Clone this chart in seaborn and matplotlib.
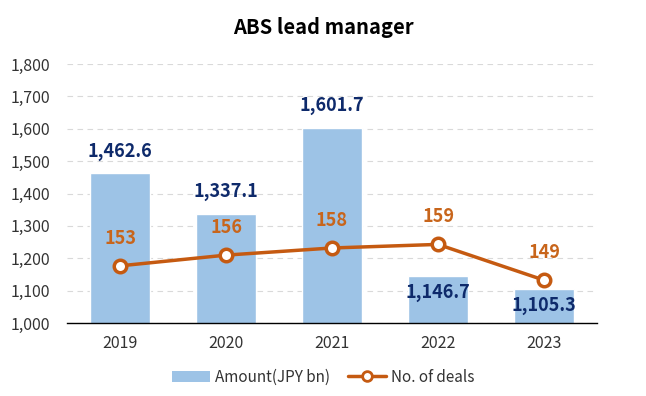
import numpy as np
import matplotlib
matplotlib.use('Agg')
import matplotlib.pyplot as plt
import seaborn as sns
import pandas as pd
from matplotlib.lines import Line2D
from matplotlib.patches import Patch

# Chart data
years = ['2019', '2020', '2021', '2022', '2023']
amount = [1462.6, 1337.1, 1601.7, 1146.7, 1105.3]
deals = [153, 156, 158, 159, 149]

bar_color = '#9DC3E6'
line_color = '#C55A11'
navy = '#0E2A6B'

sns.set_style('white')
plt.rcParams['font.family'] = ['Noto Sans CJK JP', 'DejaVu Sans']

df = pd.DataFrame({'year': years, 'amount': amount, 'deals': deals})

fig = plt.figure(figsize=(6.46, 3.96), dpi=100)
ax = fig.add_axes([67 / 646, 1 - 323 / 396, 530 / 646, 259 / 396])

sns.barplot(data=df, x='year', y='amount', color=bar_color, width=0.56,
            saturation=1, ax=ax, zorder=2)
ax.set_ylim(1000, 1800)
ax.set_yticks(np.arange(1000, 1801, 100))
ax.set_yticklabels([f'{v:,}' for v in range(1000, 1801, 100)])
ax.yaxis.grid(True, linestyle=(0, (5, 4)), color='#D9D9D9', linewidth=0.8, zorder=0)
ax.set_axisbelow(True)
ax.set_xlabel('')
ax.set_ylabel('')
ax.tick_params(axis='both', length=0, labelsize=11.5, colors='#333333')
ax.tick_params(axis='y', pad=12)
ax.tick_params(axis='x', pad=9)
for s in ['left', 'right', 'top']:
    ax.spines[s].set_visible(False)
ax.spines['bottom'].set_color('black')
ax.spines['bottom'].set_linewidth(1.0)

# bar labels: above for tall bars, inside for short
for i, v in enumerate(amount):
    off = 16 if v > 1200 else -12
    ax.annotate(f'{v:,.1f}', (i, v), xytext=(0, off), textcoords='offset points',
                ha='center', va='center', fontsize=13, fontweight='bold', color=navy)

ax2 = ax.twinx()
sns.lineplot(x=np.arange(len(years)), y=deals, ax=ax2, color=line_color, linewidth=2.5,
             marker='o', markersize=9, markerfacecolor='white',
             markeredgecolor=line_color, markeredgewidth=2.5, zorder=5)
ax2.set_ylim(137, 209.5)
ax2.set_yticks([])
for s in ['left', 'right', 'top', 'bottom']:
    ax2.spines[s].set_visible(False)
for i, v in enumerate(deals):
    ax2.annotate(str(v), (i, v), xytext=(0, 20), textcoords='offset points',
                 ha='center', va='center', fontsize=13, fontweight='bold', color='#C8651B')
ax.set_xlim(-0.5, 4.5)

fig.text(0.5, 1 - 28 / 396, 'ABS lead manager', ha='center', va='center',
         fontsize=14.5, fontweight='bold', color='black')

handles = [Patch(facecolor=bar_color, edgecolor='none', label='Amount(JPY bn)'),
           Line2D([0], [0], color=line_color, linewidth=2.5, marker='o', markersize=7,
                  markerfacecolor='white', markeredgecolor=line_color,
                  markeredgewidth=2, label='No. of deals')]
fig.legend(handles=handles, loc='center', bbox_to_anchor=(0.5, 1 - 377 / 396), ncol=2,
           frameon=False, fontsize=11, handlelength=2.5, columnspacing=1.2,
           handletextpad=0.3, labelcolor='#333333')

fig.savefig('out.png', dpi=100)
